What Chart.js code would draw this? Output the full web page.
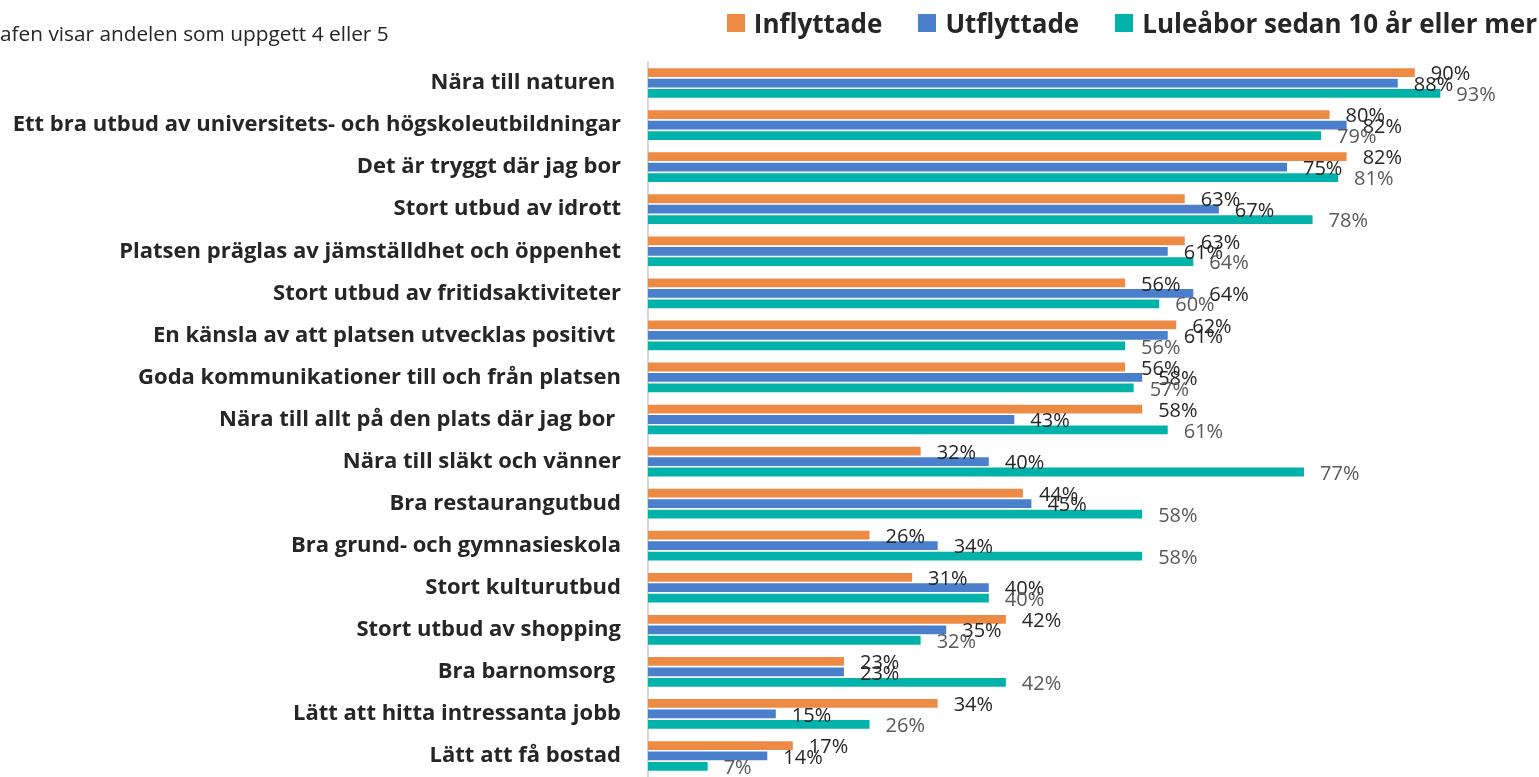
<!DOCTYPE html>
<html>
<head>
<meta charset="utf-8">
<script src="https://cdn.jsdelivr.net/npm/chart.js@4.4.1/dist/chart.umd.min.js"></script>
<style>
    html, body { margin: 0; padding: 0; background: #fff; overflow: hidden; }
    #wrap { position: relative; width: 1539px; height: 777px; }
    #chart { position: absolute; left: 0; top: 0; }
    #note { position: absolute; left: 0; top: 19px; line-height: 28px; font: 20.8px "Open Sans", sans-serif; color: #262626; white-space: nowrap; }
    #legend { position: absolute; right: 2px; top: 6px; display: flex; align-items: center; gap: 36px; }
    #legend .item { display: flex; align-items: center; font: bold 26px "Open Sans", sans-serif; color: #262626; line-height: 34px; white-space: nowrap; }
    #legend .box { width: 18px; height: 18px; margin-right: 9px; }
</style>
</head>
<body>
<div id="wrap">
    <canvas id="chart" width="1539" height="777"></canvas>
    <div id="note">afen visar andelen som uppgett 4 eller 5</div>
    <div id="legend"></div>
</div>
<script>
/* Data: share answering 4 or 5 (%) */
const categories = [
    'Nära till naturen ',
    'Ett bra utbud av universitets- och högskoleutbildningar',
    'Det är tryggt där jag bor',
    'Stort utbud av idrott',
    'Platsen präglas av jämställdhet och öppenhet',
    'Stort utbud av fritidsaktiviteter',
    'En känsla av att platsen utvecklas positivt ',
    'Goda kommunikationer till och från platsen',
    'Nära till allt på den plats där jag bor ',
    'Nära till släkt och vänner',
    'Bra restaurangutbud',
    'Bra grund- och gymnasieskola',
    'Stort kulturutbud',
    'Stort utbud av shopping',
    'Bra barnomsorg ',
    'Lätt att hitta intressanta jobb',
    'Lätt att få bostad'
];
const inflyttade = [90, 80, 82, 63, 63, 56, 62, 56, 58, 32, 44, 26, 31, 42, 23, 34, 17];
const utflyttade = [88, 82, 75, 67, 61, 64, 61, 58, 43, 40, 45, 34, 40, 35, 23, 15, 14];
const lulebor    = [93, 79, 81, 78, 64, 60, 56, 57, 61, 77, 58, 58, 40, 32, 42, 26, 7];
const seriesNames = ['Inflyttade', 'Utflyttade', 'Luleåbor sedan 10 år eller mer'];

const colors = ['#ED8B44', '#4A7FCB', '#00B2AA'];
const labelColors = ['#262626', '#262626', '#595959'];

// value labels right of each bar
const valueLabels = {
    id: 'valueLabels',
    afterDatasetsDraw(chart) {
        const ctx = chart.ctx;
        ctx.save();
        ctx.font = '20px "Open Sans", sans-serif';
        ctx.textAlign = 'left';
        ctx.textBaseline = 'middle';
        chart.data.datasets.forEach((ds, i) => {
            ctx.fillStyle = labelColors[i];
            chart.getDatasetMeta(i).data.forEach((bar, j) => {
                ctx.fillText(ds.data[j] + '%', bar.x + 16, bar.y + 2);
            });
        });
        ctx.restore();
    }
};

const chart = new Chart(document.getElementById('chart'), {
    type: 'bar',
    data: {
        labels: categories,
        datasets: [inflyttade, utflyttade, lulebor].map((d, i) => ({
            label: seriesNames[i],
            data: d,
            backgroundColor: colors[i],
            borderWidth: 0,
            categoryPercentage: 0.745,
            barPercentage: 0.84
        }))
    },
    options: {
        indexAxis: 'y',
        responsive: false,
        animation: false,
        layout: { autoPadding: false, padding: { left: 0, right: 39, top: 62, bottom: -3 } },
        plugins: {
            legend: { display: false },
            tooltip: { enabled: false }
        },
        scales: {
            x: { min: 0, max: 100, display: false },
            y: {
                afterFit(scale) {
                    scale.width = 648;
                    scale.paddingTop = 0;
                    scale.paddingBottom = 0;
                },
                grid: { display: false, drawTicks: false },
                border: { display: true, color: '#D9D9D9', width: 2 },
                ticks: {
                    padding: 27,
                    color: '#262626',
                    font: { family: 'Open Sans', size: 22, weight: 'bold' }
                }
            }
        }
    },
    plugins: [valueLabels]
});

// legend
document.getElementById('legend').innerHTML = chart.data.datasets.map(ds =>
    `<div class="item"><span class="box" style="background:${ds.backgroundColor}"></span>${ds.label}</div>`
).join('');
</script>
</body>
</html>
